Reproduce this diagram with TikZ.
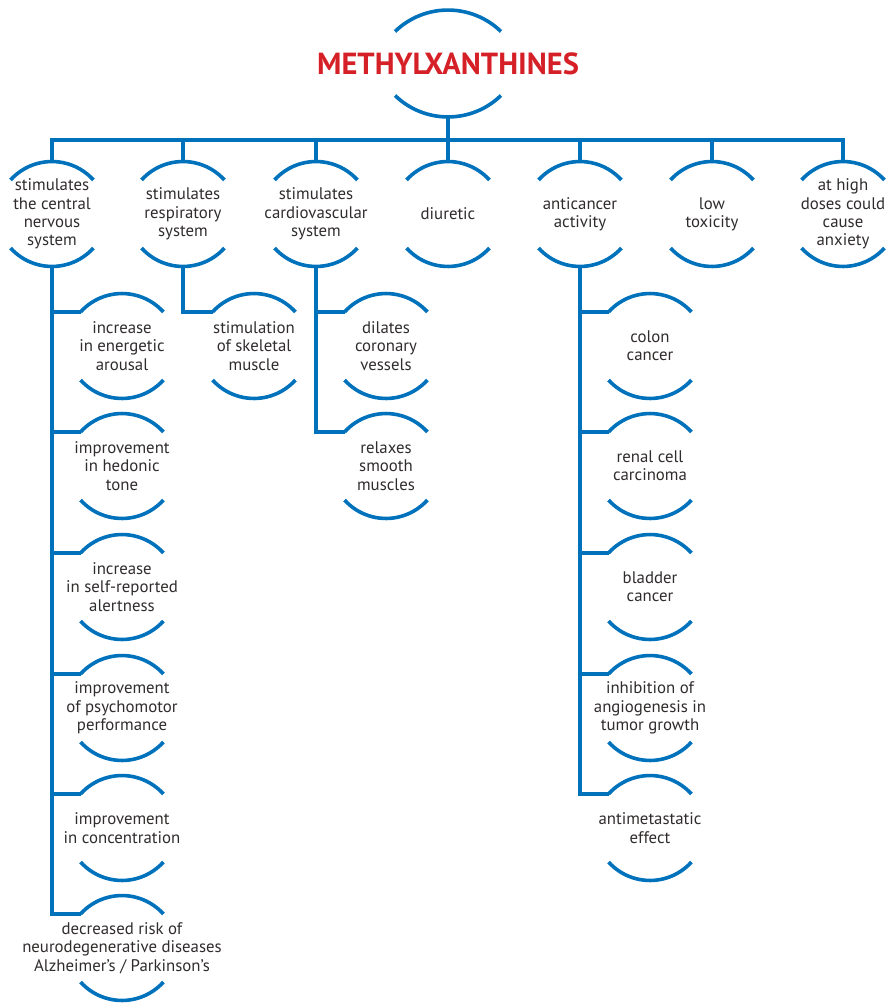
\documentclass[tikz,border=0pt]{standalone}
\usepackage{fontspec}
\setmainfont{PT Sans}

\definecolor{lineblue}{RGB}{0,114,188}
\definecolor{titlered}{RGB}{213,32,39}
\definecolor{textgray}{RGB}{48,44,44}

\tikzset{
  link/.style={draw=lineblue, line width=3.6pt},
  lbl/.style={align=center, text=textgray, inner sep=0pt, font=\fontsize{16.8}{18.3}\selectfont},
  ttl/.style={text=titlered, inner sep=0pt, font=\fontsize{30.5}{32}\selectfont\bfseries},
}

% two arcs round a node: name, radius, half angle, height of the arc ends
\newcommand{\lensarcs}[4]{%
  \draw[link] (#1.center) ++({-#2*sin(#3)},#4) coordinate (#1-in)
    arc[start angle=90+#3, end angle=90-#3, radius=#2pt];
  \draw[link] (#1.center) ++({-#2*sin(#3)},-#4)
    arc[start angle=270-#3, end angle=270+#3, radius=#2pt];
  \path (#1.center) ++(0,{#4+#2*(1-cos(#3))}) coordinate (#1-top);
  \path (#1.center) ++(0,{-#4-#2*(1-cos(#3))}) coordinate (#1-bot);
}
\newcommand{\lens}[1]{\lensarcs{#1}{55.8}{48}{34}}

\begin{document}
\begin{tikzpicture}[x=1pt, y=1pt]

    \useasboundingbox (0,0) rectangle (896,-1004);

    \node[ttl] (title) at (448,-63.5) {METHYLXANTHINES};

    \node[lbl] (cns) at (52,-214) {stimulates\\the central\\nervous\\system};
    \node[lbl] (resp) at (183,-214) {stimulates\\respiratory\\system};
    \node[lbl] (cardio) at (316,-214) {stimulates\\cardiovascular\\system};
    \node[lbl] (diur) at (448,-214) {diuretic};
    \node[lbl] (anti) at (580,-214) {anticancer\\activity};
    \node[lbl] (tox) at (712,-214) {low\\toxicity};
    \node[lbl] (anx) at (843,-214) {at high\\doses could\\cause\\anxiety};

    \node[lbl] (arousal) at (122,-346) {increase\\in energetic\\arousal};
    \node[lbl] (hedonic) at (122,-466) {improvement\\in hedonic\\tone};
    \node[lbl] (alert) at (122,-587) {increase\\in self-reported\\alertness};
    \node[lbl] (psycho) at (122,-708) {improvement\\of psychomotor\\performance};
    \node[lbl] (conc) at (122,-828) {improvement\\in concentration};
    \node[lbl] (neuro) at (122,-948) {decreased risk of\\neurodegenerative diseases\\Alzheimer’s / Parkinson’s};

    \node[lbl] (skel) at (254,-346) {stimulation\\of skeletal\\muscle};

    \node[lbl] (dilate) at (386,-346) {dilates\\coronary\\vessels};
    \node[lbl] (relax) at (386,-466) {relaxes\\smooth\\muscles};

    \node[lbl] (colon) at (650,-346) {colon\\cancer};
    \node[lbl] (renal) at (650,-466) {renal cell\\carcinoma};
    \node[lbl] (bladder) at (650,-587) {bladder\\cancer};
    \node[lbl] (angio) at (650,-708) {inhibition of\\angiogenesis in\\tumor growth};
    \node[lbl] (meta) at (650,-828) {antimetastatic\\effect};

    \lensarcs{title}{76.1}{44.1}{32}
    \foreach \n in {cns,resp,cardio,diur,anti,tox,anx,arousal,hedonic,alert,psycho,conc,neuro,skel,dilate,relax,colon,renal,bladder,angio,meta}
      \lens{\n};

    \draw[link] (title-bot) -- ++(0,-23) coordinate (bus);
    \foreach \n in {cns,resp,cardio,diur,anti,tox,anx}
      \draw[link] (bus) -| (\n-top);

    \foreach \n in {arousal,hedonic,alert,psycho,conc,neuro}
      \draw[link] (cns-bot) |- (\n-in);
    \draw[link] (resp-bot) |- (skel-in);
    \foreach \n in {dilate,relax}
      \draw[link] (cardio-bot) |- (\n-in);
    \foreach \n in {colon,renal,bladder,angio,meta}
      \draw[link] (anti-bot) |- (\n-in);

\end{tikzpicture}
\end{document}
